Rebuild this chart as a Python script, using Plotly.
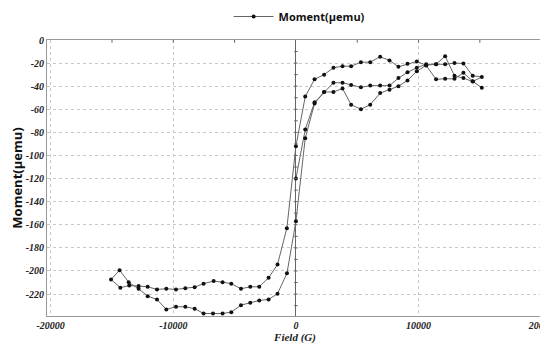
import plotly.graph_objects as go

# Virgin branch (0 -> +15000)
virgin_field = [0, 760, 1520, 2300, 3060, 3800, 4500, 5300, 6060, 6870, 7630, 8360, 9100, 9860,
                10620, 11430, 12170, 12930, 13660, 14420, 15160]
virgin_moment = [-120, -77.5, -54, -45, -37, -37, -39, -41, -39.5, -39.5, -39.5, -33, -28, -24,
                 -21, -21, -14, -31, -33, -36, -32]

# Descending branch (+15000 -> -15000)
desc_field = [14420, 13660, 12930, 12170, 11430, 10620, 9860, 9100, 8360, 7630, 6870, 6060, 5300,
              4500, 3800, 3060, 2300, 1520, 760, 0, -740, -1500, -2230, -2990, -3720, -4480, -5270,
              -5980, -6710, -7530, -8260, -9020, -9780, -10570, -11330, -12090, -12830, -13590,
              -14320, -15080]
desc_moment = [-31, -20.3, -20, -21, -21, -21.8, -18.6, -20.6, -23.2, -17.7, -14.5, -19.2, -19.2,
               -22.7, -22.7, -24, -30, -34, -49, -92, -163, -194.4, -205.9, -213.7, -213.7, -215.4,
               -211, -209.7, -208.8, -211, -214, -214.9, -216, -215.4, -216, -213.7, -213, -212.6,
               -214.5, -207.4]

# Ascending branch (-15000 -> +15000)
asc_field = [-14380, -13640, -12830, -12090, -11330, -10570, -9780, -9020, -8260, -7530, -6760,
             -5980, -5270, -4480, -3720, -2990, -2230, -1500, -730, 0, 760, 1520, 2300, 3060, 3800,
             4500, 5300, 6060, 6870, 7630, 8360, 9100, 9860, 10620, 11430, 12170, 12930, 13660,
             14420, 15160]
asc_moment = [-199.3, -209.7, -215.5, -221.8, -224.7, -233.3, -231, -231, -232.7, -236.8, -236.8,
              -236.8, -235.7, -229.6, -227.5, -225.5, -224.7, -219.7, -202, -157, -85, -55, -45,
              -45, -42, -56, -60, -56, -46, -43, -40, -35, -27, -22, -34, -33.6, -33.6, -28.4,
              -35.7, -41.4]

x_ticks = [-20000, -10000, 0, 10000, 20000]
y_ticks = [0, -20, -40, -60, -80, -100, -120, -140, -160, -180, -200, -220]

field = virgin_field + desc_field + asc_field
moment = virgin_moment + desc_moment + asc_moment

serif = "Liberation Serif, Times New Roman, serif"
tick_font = dict(family=serif, size=10, color="#222", weight="bold", style="italic")

fig = go.Figure()
fig.add_trace(go.Scatter(
    x=field, y=moment, mode="lines+markers", name="Moment(μemu)",
    line=dict(color="#666", width=1),
    marker=dict(color="#111", size=4),
))

# minor tick marks on the crossing axes (decoration)
shapes = []
for v in range(-230, 0, 10):
    shapes.append(dict(type="line", xref="x", yref="y", x0=-150, x1=150, y0=v, y1=v,
                       line=dict(color="#666", width=1)))
for v in [-15000, -10000, -5000, 5000, 10000, 15000]:
    shapes.append(dict(type="line", xref="x", yref="paper", x0=v, x1=v, y0=0.99, y1=1.0,
                       line=dict(color="#666", width=1)))

# page body has an 8px margin, so the figure is sized to the visible area
fig.update_layout(
    width=540, height=340,
    margin=dict(l=39, r=5, t=32, b=32, autoexpand=False),
    paper_bgcolor="white", plot_bgcolor="white",
    showlegend=True,
    legend=dict(orientation="h", x=0.54, xanchor="center", y=0.975, yanchor="middle",
                xref="container", yref="container",
                font=dict(family="Open Sans", size=11, color="#111", weight="bold"),
                itemwidth=40),
    shapes=shapes,
    xaxis=dict(range=[-20300, 20150], tickvals=x_ticks,
               ticktext=["<b><i>%d</i></b>" % t for t in x_ticks],
               tickfont=tick_font, ticklabeloverflow="allow",
               showgrid=True, gridcolor="#c8c8c8", griddash="dot", gridwidth=1,
               zeroline=True, zerolinecolor="#666", zerolinewidth=1.3,
               showline=True, linecolor="#999", linewidth=1, mirror=True, ticks="",
               title=dict(text="<b><i>Field (G)</i></b>", standoff=0,
                          font=dict(family=serif, size=11, color="#222"))),
    yaxis=dict(range=[-239, 0], tickvals=y_ticks,
               ticktext=["<b><i>%d</i></b>" % t for t in y_ticks],
               tickfont=tick_font, ticklabeloverflow="allow",
               showgrid=True, gridcolor="#c8c8c8", griddash="dot", gridwidth=1,
               zeroline=True, zerolinecolor="#888", zerolinewidth=1,
               showline=True, linecolor="#999", linewidth=1, mirror=True, ticks="",
               title=dict(text="Moment(μemu)", standoff=4,
                          font=dict(family="Open Sans", size=13, color="#111", weight="bold"))),
)

fig.write_html("out.html")
